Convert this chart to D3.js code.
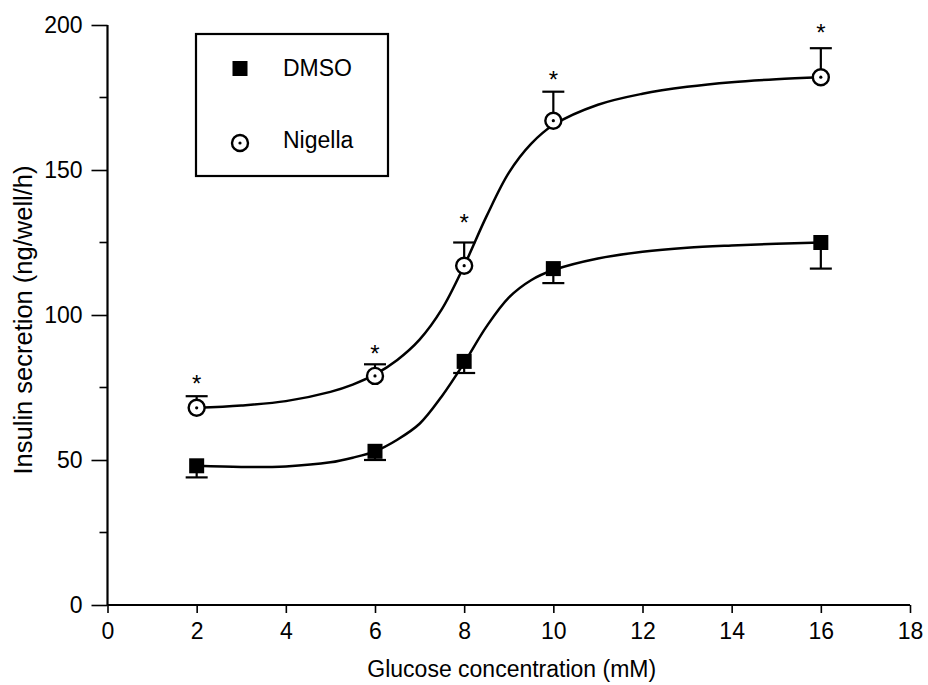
<!DOCTYPE html>
<meta charset="utf-8">
<html>
<style>
body { margin: 0; background: #fff; }
svg { font-family: "Liberation Sans", Arial, sans-serif; }
.curve { fill: none; stroke: #000; stroke-width: 2.5px; }
.err { stroke: #000; stroke-width: 2.2px; }
</style>
<body>
<script src="https://cdnjs.cloudflare.com/ajax/libs/d3/7.8.5/d3.min.js"></script>
<script>
	// glucose levels (mM)
	var glucose = [2, 6, 8, 10, 16];

	// means and SEM
	var dmsoMean = [48, 53, 84, 116, 125];
	var dmsoErr = [4, 3, 4, 5, 9];
	var nigellaMean = [68, 79, 117, 167, 182];
	var nigellaErr = [4, 4, 8, 10, 10];

	// where the asterisks sit (y units)
	var starY = [77.5, 88, 133, 182.5, 198.5];

	// fitted curves
	var curveX = [2, 3, 4, 5, 5.5, 6, 6.5, 7, 7.5, 8, 8.5, 9, 9.5, 10, 11, 12, 13, 14, 15, 16];
	var dmsoCurve = [48, 47.6, 47.8, 49.2, 50.8, 53, 57, 62.5, 72, 83.5, 96, 106, 112, 115.5, 119.5, 121.8, 123.2, 124, 124.6, 125];
	var nigellaCurve = [68, 68.8, 70.3, 73.5, 76, 79.5, 84.5, 91.5, 102, 117, 134, 149, 159, 165.5, 172.5, 176.3, 178.7, 180.3, 181.3, 182];

	var xTicks = d3.range(0, 19, 2);
	var yTicks = [0, 50, 100, 150, 200];
	var yMinor = [25, 75, 125, 175];

	var width = 928;
	var height = 685;
	var fontSize = 23;

	var x = d3.scaleLinear().domain([0, 18]).range([107.5, 910]);
	var y = d3.scaleLinear().domain([0, 200]).range([605, 25]);

	var svg = d3.select("body")
				.append("svg")
				.attr("width", width)
				.attr("height", height);

	// y axis
	var yAxis = svg.append("g")
		.attr("transform", "translate(" + x(0) + ",0)")
		.call(d3.axisLeft(y).tickValues(yTicks).tickSize(16).tickPadding(9).tickFormat(d3.format("d")));
	yAxis.selectAll("g.minor")
		.data(yMinor)
		.enter()
		.append("line")
		.attr("x1", -8)
		.attr("x2", 0)
		.attr("y1", d => y(d))
		.attr("y2", d => y(d));

	// x axis
	var xAxis = svg.append("g")
		.attr("transform", "translate(0," + y(0) + ")")
		.call(d3.axisBottom(x).tickValues(xTicks).tickSize(8).tickPadding(10).tickFormat(d3.format("d")));

	yAxis.select(".domain").attr("d", "M0," + y(200) + "V" + y(0));
	xAxis.select(".domain").attr("d", "M" + x(0) + ",0H" + x(18));
	svg.selectAll(".domain").attr("stroke-width", 2.2);
	svg.selectAll(".tick line").attr("stroke-width", 1.6);
	yAxis.selectAll("line").attr("stroke", "#000").attr("stroke-width", 1.6);
	svg.selectAll(".tick text").style("font-size", fontSize + "px").attr("fill", "#000");

	// titles
	svg.append("text")
		.attr("x", (x(0) + x(18)) / 2 + 3)
		.attr("y", 677)
		.attr("text-anchor", "middle")
		.style("font-size", fontSize + "px")
		.text("Glucose concentration (mM)");

	svg.append("text")
		.attr("transform", "translate(32,320) rotate(-90)")
		.attr("text-anchor", "middle")
		.style("font-size", "25.5px")
		.text("Insulin secretion (ng/well/h)");

	// curves
	var line = d3.line()
		.x((d, i) => x(curveX[i]))
		.y(d => y(d))
		.curve(d3.curveCatmullRom);

	svg.append("path").datum(dmsoCurve).attr("class", "curve").attr("d", line);
	svg.append("path").datum(nigellaCurve).attr("class", "curve").attr("d", line);

	// error bars (DMSO downwards, Nigella upwards)
	var capHalf = 11;
	function errorBars(means, errs, dir) {
		var g = svg.append("g");
		glucose.forEach(function(gx, i) {
			var top = means[i] + dir * errs[i];
			g.append("line").attr("class", "err")
				.attr("x1", x(gx)).attr("x2", x(gx))
				.attr("y1", y(means[i])).attr("y2", y(top));
			g.append("line").attr("class", "err")
				.attr("x1", x(gx) - capHalf).attr("x2", x(gx) + capHalf)
				.attr("y1", y(top)).attr("y2", y(top));
		});
	}
	errorBars(dmsoMean, dmsoErr, -1);
	errorBars(nigellaMean, nigellaErr, 1);

	// markers
	function square(g, cx, cy) {
		g.append("rect")
			.attr("x", cx - 7.5).attr("y", cy - 7.5)
			.attr("width", 15).attr("height", 15)
			.attr("fill", "#000");
	}
	function ring(g, cx, cy) {
		g.append("circle").attr("cx", cx).attr("cy", cy).attr("r", 8)
			.attr("fill", "#fff").attr("stroke", "#000").attr("stroke-width", 2.4);
		g.append("circle").attr("cx", cx).attr("cy", cy).attr("r", 1.6).attr("fill", "#000");
	}

	var marks = svg.append("g");
	glucose.forEach(function(gx, i) {
		square(marks, x(gx), y(dmsoMean[i]));
		ring(marks, x(gx), y(nigellaMean[i]));
	});

	// significance stars
	svg.append("g")
		.selectAll("text")
		.data(starY)
		.enter()
		.append("text")
		.attr("x", (d, i) => x(glucose[i]))
		.attr("y", d => y(d) + 12)
		.attr("text-anchor", "middle")
		.style("font-size", "24px")
		.text("*");

	// legend
	var legend = svg.append("g");
	legend.append("rect")
		.attr("x", 196).attr("y", 34)
		.attr("width", 192).attr("height", 142)
		.attr("fill", "#fff").attr("stroke", "#000").attr("stroke-width", 2.2);
	square(legend, 240, 68.5);
	ring(legend, 240, 143);
	legend.append("text").attr("x", 283).attr("y", 76).style("font-size", fontSize + "px").text("DMSO");
	legend.append("text").attr("x", 283).attr("y", 148).style("font-size", fontSize + "px").text("Nigella");
</script>
</body>
</html>
